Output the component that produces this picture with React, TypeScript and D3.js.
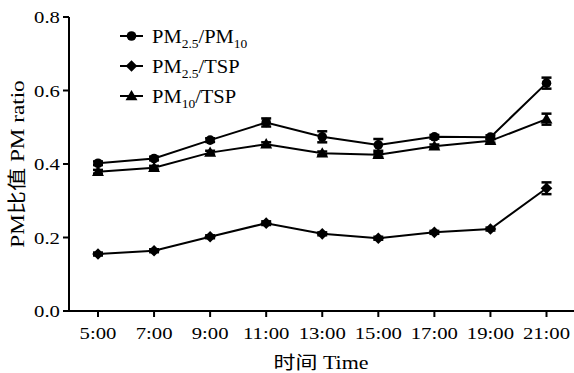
import React from "react";
import * as d3 from "d3";

const categories = ["5:00", "7:00", "9:00", "11:00", "13:00", "15:00", "17:00", "19:00", "21:00"];
const pm25pm10 = [0.402, 0.415, 0.465, 0.513, 0.474, 0.452, 0.474, 0.473, 0.620];
const pm25pm10Err = [0.005, 0.005, 0.005, 0.011, 0.015, 0.016, 0.005, 0.005, 0.015];
const pm25tsp = [0.155, 0.164, 0.202, 0.239, 0.210, 0.198, 0.214, 0.223, 0.334];
const pm25tspErr = [0.004, 0.004, 0.004, 0.005, 0.004, 0.004, 0.004, 0.004, 0.016];
const pm10tsp = [0.379, 0.390, 0.431, 0.454, 0.429, 0.425, 0.448, 0.463, 0.522];
const pm10tspErr = [0.005, 0.005, 0.005, 0.005, 0.005, 0.005, 0.005, 0.005, 0.015];
const yTicks = [0.0, 0.2, 0.4, 0.6, 0.8];

const W = 574, H = 373;
const FONT = "'Liberation Serif', 'Times New Roman', 'Noto Sans CJK SC', serif";
const SX = 1.22;

function Marker({ type, x, y }: { type: string; x: number; y: number }) {
  if (type === "circle") return <circle cx={x} cy={y} r={4.8} fill="#000" />;
  if (type === "diamond") {
    const p = d3.path();
    const r = 5.8;
    p.moveTo(x, y - r);
    p.lineTo(x + r, y);
    p.lineTo(x, y + r);
    p.lineTo(x - r, y);
    p.closePath();
    return <path d={p.toString()} fill="#000" />;
  }
  const s = d3.symbol(d3.symbolTriangle, 62)();
  return <path d={s as string} transform={`translate(${x},${y + 0.8})`} fill="#000" />;
}

function T({ x, y, anchor, size, children, rotate }: any) {
  return (
    <g transform={`translate(${x},${y}) rotate(${rotate || 0}) scale(${SX},1)`}>
      <text x={0} y={0} textAnchor={anchor} fontSize={size}>
        {children}
      </text>
    </g>
  );
}

export default function App() {
  const x = d3.scalePoint<string>().domain(categories).range([98, 546.5]);
  const y = d3.scaleLinear().domain([0, 0.8]).range([311, 17]);
  const axisX0 = 69;
  const line = d3
    .line<number>()
    .x((_, i) => x(categories[i]) as number)
    .y((d) => y(d));

  const series = [
    { vals: pm25pm10, err: pm25pm10Err, type: "circle" },
    { vals: pm10tsp, err: pm10tspErr, type: "triangle" },
    { vals: pm25tsp, err: pm25tspErr, type: "diamond" },
  ];

  const legend = [
    { type: "circle", parts: [["PM", ""], ["2.5", "sub"], ["/PM", ""], ["10", "sub"]] },
    { type: "diamond", parts: [["PM", ""], ["2.5", "sub"], ["/TSP", ""]] },
    { type: "triangle", parts: [["PM", ""], ["10", "sub"], ["/TSP", ""]] },
  ];

  return (
    <svg width={W} height={H} style={{ position: "absolute", left: 0, top: 0, background: "#fff" }} fontFamily={FONT}>
      <rect x={0} y={0} width={W} height={H} fill="#fff" />
      <line x1={axisX0} x2={axisX0} y1={y(0.8)} y2={y(0)} stroke="#000" strokeWidth={2} />
      <line x1={axisX0 - 1} x2={W} y1={y(0)} y2={y(0)} stroke="#000" strokeWidth={2} />
      {yTicks.map((t) => (
        <g key={t}>
          <line x1={axisX0 - 6} x2={axisX0} y1={y(t)} y2={y(t)} stroke="#000" strokeWidth={2} />
          <T x={axisX0 - 9} y={y(t) + 6} anchor="end" size={17}>
            {t.toFixed(1)}
          </T>
        </g>
      ))}
      {categories.map((c) => (
        <g key={c}>
          <line x1={x(c)} x2={x(c)} y1={y(0)} y2={y(0) + 6} stroke="#000" strokeWidth={2} />
          <T x={x(c)} y={y(0) + 28} anchor="middle" size={17}>
            {c}
          </T>
        </g>
      ))}
      <T x={321} y={369} anchor="middle" size={18}>
        时间 Time
      </T>
      <T x={24} y={164} anchor="middle" size={19} rotate={-90}>
        PM比值 PM ratio
      </T>
      {series.map((s, si) => (
        <g key={si}>
          <path d={line(s.vals) as string} fill="none" stroke="#000" strokeWidth={2} />
          {s.vals.map((v, i) => {
            const cx = x(categories[i]) as number;
            const e = s.err[i];
            return (
              <g key={i}>
                <line x1={cx} x2={cx} y1={y(v - e)} y2={y(v + e)} stroke="#000" strokeWidth={2} />
                <line x1={cx - 5} x2={cx + 5} y1={y(v + e)} y2={y(v + e)} stroke="#000" strokeWidth={2.5} />
                <line x1={cx - 5} x2={cx + 5} y1={y(v - e)} y2={y(v - e)} stroke="#000" strokeWidth={2.5} />
                <Marker type={s.type} x={cx} y={y(v)} />
              </g>
            );
          })}
        </g>
      ))}
      {legend.map((l, i) => {
        const ly = 36 + i * 30;
        return (
          <g key={i}>
            <line x1={120} x2={143} y1={ly} y2={ly} stroke="#000" strokeWidth={2} />
            <Marker type={l.type} x={131.5} y={ly} />
            <g transform={`translate(152,${ly + 7}) scale(1.08,1)`}>
              <text x={0} y={0} fontSize={19}>
                {l.parts.map((p, j) =>
                  p[1] === "sub" ? (
                    <tspan key={j} fontSize={12.5} dy={5}>
                      {p[0]}
                    </tspan>
                  ) : (
                    <tspan key={j} dy={j === 0 ? 0 : -5}>
                      {p[0]}
                    </tspan>
                  )
                )}
              </text>
            </g>
          </g>
        );
      })}
    </svg>
  );
}
